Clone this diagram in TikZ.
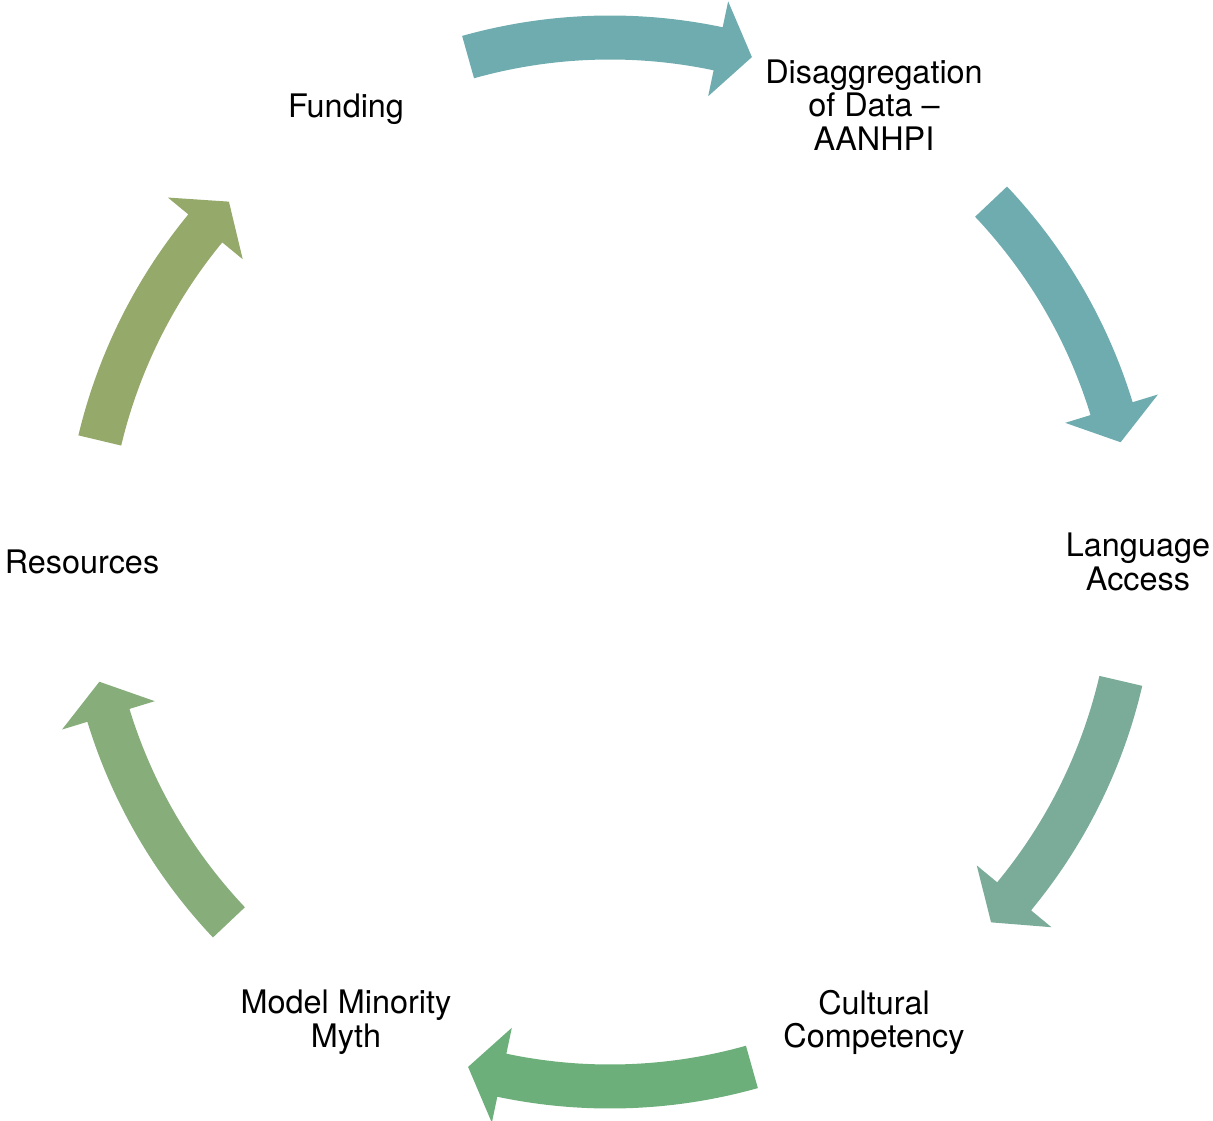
\documentclass[tikz,border=0pt]{standalone}
\usepackage{fontspec}
\setmainfont{TeX Gyre Heros}
\definecolor{tealA}{RGB}{110,172,175}
\definecolor{tealB}{RGB}{123,172,153}
\definecolor{greenA}{RGB}{109,175,123}
\definecolor{greenB}{RGB}{135,173,123}
\definecolor{oliveA}{RGB}{149,169,106}
% #1 colour, #2 start angle, #3 head base angle, #4 tip angle
\newcommand{\cyclearrow}[4]{%
\fill[#1] (#2:546.5pt) arc[start angle=#2, end angle=#3, radius=546.5pt]
  -- (#3:573pt) -- (#4:524.5pt) -- (#3:476pt) -- (#3:502.5pt)
  arc[start angle=#3, end angle=#2, radius=502.5pt] -- cycle;}
\begin{document}
\begin{tikzpicture}[cyclestage/.style={align=center, inner sep=0pt, font=\fontsize{32.4}{33.5}\selectfont}]
\useasboundingbox (-610pt,-558pt) rectangle (603pt,562pt);
\node[cyclestage, yshift=-4pt] (funding) at (120:528pt) {Funding};
\node[cyclestage] (disagg) at (60:528pt) {Disaggregation\\of Data --\\AANHPI};
\node[cyclestage] (language) at (0:528pt) {Language\\Access};
\node[cyclestage, yshift=-3pt] (cultural) at (-60:528pt) {Cultural\\Competency};
\node[cyclestage, yshift=-3pt] (myth) at (-120:528pt) {Model Minority\\Myth};
\node[cyclestage] (resources) at (180:528pt) {Resources};
\cyclearrow{tealA}{105.7}{78.1}{74.3}
\cyclearrow{tealA}{43.4}{17.0}{13.2}
\cyclearrow{tealB}{-13.1}{-39.6}{-43.4}
\cyclearrow{greenA}{-74.3}{-101.9}{-105.7}
\cyclearrow{greenB}{-136.6}{-163.0}{-166.8}
\cyclearrow{oliveA}{166.6}{140.5}{136.6}
\end{tikzpicture}
\end{document}
